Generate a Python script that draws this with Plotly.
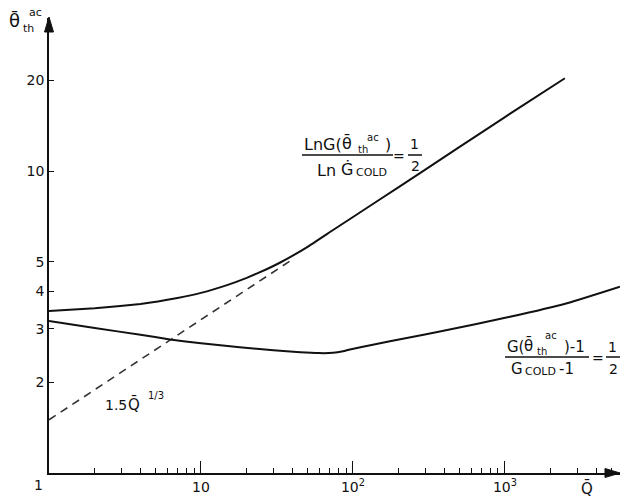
import plotly.graph_objects as go

# Upper curve: LnG(theta)/LnG_cold = 1/2
q_upper = [1, 2, 4, 7, 10, 15, 20, 27, 33, 50, 74, 150, 276, 500, 1000, 2480]
theta_upper = [3.44, 3.51, 3.63, 3.80, 3.95, 4.2, 4.43, 4.73, 4.97, 5.6, 6.38, 8.05, 9.85, 12.0, 15.1, 20.3]

# Lower curve: (G(theta)-1)/(G_cold-1) = 1/2
q_lower = [1, 2, 4, 6.25, 10, 18, 30, 45, 60, 74, 86, 95.5, 135, 226, 373, 1078, 2560, 5710]
theta_lower = [3.19, 3.02, 2.87, 2.77, 2.69, 2.61, 2.55, 2.51, 2.495, 2.50, 2.53, 2.565, 2.66, 2.80, 2.94, 3.29, 3.65, 4.14]

# Asymptote 1.5 Q^(1/3)
q_asym = [1, 40]
theta_asym = [1.5, 5.1]

x_tickvals = [10, 100, 1000]
x_ticktext = ["10", "10<sup>2</sup>", "10<sup>3</sup>"]
x_minor = [2, 3, 4, 5, 6, 7, 8, 9, 20, 30, 40, 50, 60, 70, 80, 90,
           200, 300, 400, 500, 600, 700, 800, 900, 2000, 3000, 4000, 5000]
y_tickvals = [2, 3, 4, 5, 10, 20]
y_ticktext = ["2", "3", "4", "5", "10", "20"]

W, H = 620, 499
L, R, T, B = 49, 0, 18, 26
FONT = "DejaVu Sans"
INK = "#111111"


def px(x):
    return (x - L) / (W - L - R)


def py(y):
    return (H - B - y) / (H - B - T)


fig = go.Figure()
fig.add_trace(go.Scatter(x=q_asym, y=theta_asym, mode="lines",
                         line=dict(color="#333333", width=1.6, dash="8px,6px")))
fig.add_trace(go.Scatter(x=q_upper, y=theta_upper, mode="lines",
                         line=dict(color=INK, width=2, shape="spline", smoothing=0.3)))
fig.add_trace(go.Scatter(x=q_lower, y=theta_lower, mode="lines",
                         line=dict(color=INK, width=2, shape="spline", smoothing=0.5)))

annotations = []
shapes = []


def txt(x, y, s, size=15, xanchor="center"):
    annotations.append(dict(x=px(x), y=py(y), xref="paper", yref="paper", text=s,
                            showarrow=False, xanchor=xanchor, yanchor="middle",
                            font=dict(family=FONT, size=size, color=INK)))


def bar(x0, x1, y):
    shapes.append(dict(type="line", xref="paper", yref="paper",
                       x0=px(x0), x1=px(x1), y0=py(y), y1=py(y),
                       line=dict(color=INK, width=1.5)))


def triangle(pts):
    path = "M " + " L ".join(f"{px(a):.5f},{py(b):.5f}" for a, b in pts) + " Z"
    shapes.append(dict(type="path", xref="paper", yref="paper", path=path,
                       fillcolor=INK, line=dict(color=INK, width=1)))


# y-axis title
txt(14, 21, "θ̄", 18)
txt(28, 28, "th", 11)
txt(35, 12, "ac", 11)

# x-axis title and the "1" at the origin
txt(587, 488, "Q̄", 15)
txt(38, 485, "1", 14)

# upper formula
txt(302, 144, "LnG(", 16, "left")
txt(347, 143, "θ̄", 16)
txt(363, 149, "th", 10)
txt(373, 137, "ac", 10)
txt(388, 144, ")", 16)
bar(302, 393, 155)
txt(315, 170, "Ln", 16, "left")
txt(347, 169, "Ġ", 16)
txt(371, 172, "COLD", 11)
txt(399, 156, "=", 14)
txt(414, 144, "1", 14)
bar(408, 422, 155)
txt(415, 166, "2", 14)

# lower formula
txt(505, 347, "G(", 15, "left")
txt(528, 345, "θ̄", 15)
txt(542, 351, "th", 10)
txt(551, 335, "ac", 10)
txt(562, 347, ")-1", 15, "left")
bar(505, 589, 357)
txt(517, 369, "G", 15)
txt(540, 371, "COLD", 11)
txt(566, 369, "-1", 15)
txt(598, 358, "=", 14)
txt(612, 347, "1", 14)
bar(606, 620, 357)
txt(613, 369, "2", 14)

# asymptote label
txt(103, 405, "1.5", 14, "left")
txt(134, 404, "Q̄", 15)
txt(156, 395, "1/3", 10)

# axis arrowheads
triangle([(620, 473), (605, 468.5), (605, 477.5)])
triangle([(49, 17), (44.5, 32), (53.5, 32)])

fig.update_layout(
    width=W, height=H,
    margin=dict(l=L, r=R, t=T, b=B),
    paper_bgcolor="white", plot_bgcolor="white",
    showlegend=False,
    annotations=annotations,
    shapes=shapes,
    xaxis=dict(type="log", range=[0, 3.757], showgrid=False, zeroline=False,
               showline=True, linecolor=INK, linewidth=1.5,
               tickvals=x_tickvals, ticktext=x_ticktext,
               ticks="inside", ticklen=12, tickwidth=1.2, tickcolor=INK,
               tickfont=dict(family=FONT, size=14, color=INK),
               minor=dict(tickvals=x_minor, ticks="inside", ticklen=5,
                          tickwidth=1, tickcolor=INK, showgrid=False)),
    yaxis=dict(type="log", range=[0, 1.507], showgrid=False, zeroline=False,
               showline=True, linecolor=INK, linewidth=1.5,
               tickvals=y_tickvals, ticktext=y_ticktext,
               ticks="inside", ticklen=5, tickwidth=1.2, tickcolor=INK,
               tickfont=dict(family=FONT, size=14, color=INK)),
)

fig.write_html("out.html")
